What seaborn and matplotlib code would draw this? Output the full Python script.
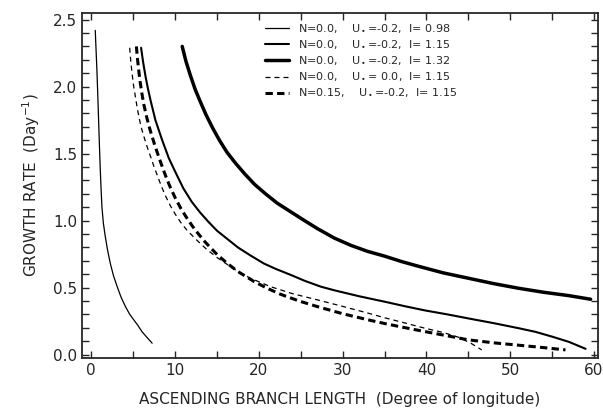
import numpy as np
import pandas as pd
import matplotlib
matplotlib.use("Agg")
import matplotlib.pyplot as plt
import seaborn as sns
from matplotlib.ticker import MultipleLocator

# ---- data ----
# N=0.0, U=-0.2, I=0.98 (thin solid)
x_a = [0.48, 0.58, 0.68, 0.78, 0.88, 0.98, 1.08, 1.18, 1.28, 1.45, 1.68, 1.95, 2.28,
       2.65, 3.08, 3.55, 4.07, 4.6, 5.07, 5.6, 6.07, 6.7, 7.27]
y_a = [2.42, 2.27, 2.12, 1.94, 1.75, 1.56, 1.38, 1.23, 1.10, 0.98, 0.88, 0.78, 0.68,
       0.59, 0.51, 0.43, 0.36, 0.30, 0.26, 0.215, 0.17, 0.125, 0.085]

# N=0.0, U=-0.2, I=1.15 (medium solid)
x_b = [5.95, 6.2, 6.47, 6.75, 7.07, 7.66, 8.47, 9.26, 10.06, 11.0, 12.0, 13.0, 14.0,
       15.0, 16.3, 17.5, 19.0, 20.6, 22.0, 23.8, 25.5, 27.4, 29.0, 32.0, 35.0, 37.5,
       39.8, 42.5, 45.0, 48.0, 51.0, 53.0, 55.0, 57.0, 59.0]
y_b = [2.29, 2.18, 2.08, 1.99, 1.90, 1.75, 1.60, 1.466, 1.36, 1.24, 1.14, 1.06, 0.99,
       0.925, 0.86, 0.80, 0.74, 0.68, 0.64, 0.595, 0.55, 0.507, 0.48, 0.435, 0.395, 0.36,
       0.33, 0.30, 0.27, 0.235, 0.197, 0.17, 0.134, 0.095, 0.043]

# N=0.0, U=-0.2, I=1.32 (thick solid)
x_c = [10.86, 11.3, 11.8, 12.4, 13.0, 13.7, 14.5, 15.3, 16.2, 17.2, 18.3, 19.5, 20.8,
       22.2, 23.7, 25.2, 27.0, 29.0, 31.0, 33.0, 35.0, 37.0, 39.0, 42.0, 45.0, 48.0,
       51.0, 54.0, 57.0, 59.6]
y_c = [2.30, 2.19, 2.09, 1.98, 1.89, 1.79, 1.69, 1.60, 1.51, 1.43, 1.35, 1.27, 1.20,
       1.13, 1.07, 1.01, 0.94, 0.87, 0.815, 0.77, 0.735, 0.695, 0.66, 0.61, 0.57, 0.53,
       0.495, 0.465, 0.44, 0.413]

# N=0.0, U=0.0, I=1.15 (thin dashed)
x_d = [4.59, 4.72, 4.87, 5.05, 5.27, 5.47, 5.67, 5.95, 6.27, 6.65, 7.07, 7.45, 7.87,
       8.35, 8.86, 9.45, 10.06, 10.7, 11.4, 12.5, 13.7, 15.0, 16.3, 17.5, 19.0, 21.4,
       24.0, 27.2, 30.0, 33.0, 35.0, 37.5, 39.8, 42.0, 43.8, 45.3, 46.6]
y_d = [2.29, 2.19, 2.10, 2.01, 1.925, 1.85, 1.78, 1.70, 1.63, 1.555, 1.48, 1.41, 1.34,
       1.26, 1.185, 1.11, 1.045, 0.985, 0.93, 0.86, 0.79, 0.725, 0.67, 0.62, 0.57, 0.507,
       0.455, 0.405, 0.36, 0.31, 0.275, 0.235, 0.197, 0.165, 0.13, 0.085, 0.035]

# N=0.15, U=-0.2, I=1.15 (thick dashed)
x_e = [5.39, 5.5, 5.67, 5.85, 6.07, 6.3, 6.59, 6.85, 7.15, 7.5, 7.87, 8.26, 8.66, 9.06,
       9.46, 10.06, 10.66, 11.3, 12.06, 12.8, 13.45, 14.2, 15.05, 16.25, 17.5, 19.44,
       21.0, 22.6, 24.8, 27.0, 30.0, 33.0, 35.0, 37.5, 39.8, 42.5, 45.0, 48.0, 51.0,
       54.0, 56.6]
y_e = [2.30, 2.22, 2.12, 2.03, 1.94, 1.86, 1.78, 1.715, 1.65, 1.58, 1.51, 1.44, 1.37,
       1.305, 1.245, 1.165, 1.095, 1.03, 0.96, 0.90, 0.85, 0.80, 0.745, 0.68, 0.62,
       0.545, 0.495, 0.45, 0.40, 0.358, 0.305, 0.26, 0.232, 0.2, 0.172, 0.14, 0.11,
       0.088, 0.07, 0.052, 0.035]

N_vals = ["0.0", "0.0", "0.0", "0.0", "0.15"]
U_vals = ["-0.2", "-0.2", "-0.2", " 0.0", "-0.2"]
I_vals = ["0.98", "1.15", "1.32", "1.15", "1.15"]

x_ticks = [0, 10, 20, 30, 40, 50, 60]
y_ticks = [0.0, 0.5, 1.0, 1.5, 2.0, 2.5]

series_x = [x_a, x_b, x_c, x_d, x_e]
series_y = [y_a, y_b, y_c, y_d, y_e]

sns.set_style("ticks")
plt.rcParams['font.family'] = ['DejaVu Sans']

fig = plt.figure(figsize=(6.03, 4.17), dpi=100)
ax = fig.add_axes([0.136, 0.141, 0.856, 0.828])

styles = [
    dict(lw=0.9, ls='-'),
    dict(lw=1.5, ls='-'),
    dict(lw=2.5, ls='-'),
    dict(lw=0.9, ls=(0, (4, 3.2))),
    dict(lw=2.2, ls=(0, (2.4, 1.4))),
]

for i in range(5):
    lab = f"N={N_vals[i]},    U$_\\bullet$={U_vals[i]},  I= {I_vals[i]}"
    df = pd.DataFrame({"x": series_x[i], "y": series_y[i]})
    sns.lineplot(data=df, x="x", y="y", ax=ax, color='black', sort=False,
                 linewidth=styles[i]['lw'], linestyle=styles[i]['ls'], label=lab)

ax.set_xlim(-1.1, 60.5)
ax.set_ylim(-0.027, 2.55)
ax.set_xticks(x_ticks)
ax.set_yticks(y_ticks)
ax.set_xticklabels([str(v) for v in x_ticks])
ax.set_yticklabels([f"{v:.1f}" for v in y_ticks])
ax.xaxis.set_minor_locator(MultipleLocator(5))
ax.yaxis.set_minor_locator(MultipleLocator(0.1))
ax.tick_params(which='both', direction='in', top=True, right=True, length=5, width=1)
ax.tick_params(labelsize=11)
for s in ax.spines.values():
    s.set_linewidth(1.3)

ax.set_xlabel("ASCENDING BRANCH LENGTH  (Degree of longitude)", fontsize=11, labelpad=10)
ax.set_ylabel("GROWTH RATE  (Day$^{-1}$)", fontsize=11, labelpad=8)

leg = ax.legend(loc='upper left', bbox_to_anchor=(0.335, 1.0), frameon=False,
                fontsize=8, handlelength=2.2, labelspacing=0.35, handletextpad=0.8)

fig.savefig("out.png", dpi=100)
